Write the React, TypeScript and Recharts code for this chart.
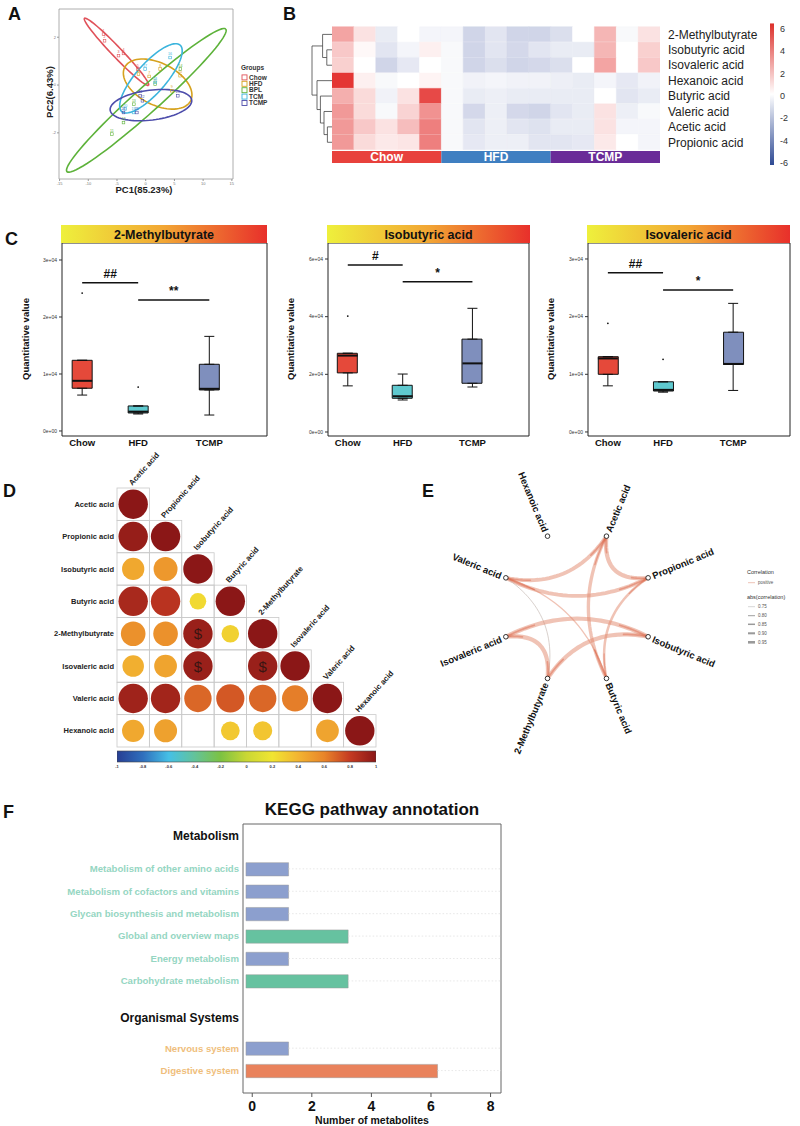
import React from 'react';
import {
  ScatterChart, Scatter, XAxis, YAxis, ReferenceArea, BarChart, Bar, Cell,
  ComposedChart, ErrorBar, ReferenceLine, LabelList,
} from 'recharts';

const FONT = '"Liberation Sans", Arial, Helvetica, sans-serif';

/* ================= Panel A : PCA ================= */
const PCA_GROUPS = ['Chow', 'HFD', 'BPL', 'TCM', 'TCMP'];
const PCA_COLORS = ['#e0525a', '#d6a21e', '#5db23a', '#3bb4dd', '#4d4dab'];
const PCA_PC1 = [
  [-7.35, -7.17, -4.74, -3.87, -1.37],
  [-1.26, 0.6, 2.51, 4.55, 5.99],
  [-5.89, -3.87, -2.06, 6.04, 1.64],
  [4.25, -0.1, 1.64, -2.13, -3.57],
  [-0.97, -0.57, 5.59, -3.87, -1.54],
];
const PCA_PC2 = [
  [2.16, 1.88, 1.26, 1.35, 0.7],
  [0.49, 0.39, 0.7, -0.21, 0.42],
  [-2.02, -1.54, -0.77, 0.7, 0.07],
  [1.18, 0.7, 0.14, -1.12, -0.97],
  [-0.42, -0.63, -0.42, -1.12, -1.12],
];
// confidence ellipses: centre and two conjugate semi-axes (PC units)
const PCA_ELL_CENTER = [[-5.09, 1.39], [2.08, 0.04], [0.11, -0.64], [0.91, 0.28], [0.91, -0.84]];
const PCA_ELL_A = [[5.57, -1.4], [5.74, -0.7], [13.83, 2.98], [5.08, 1.39], [7.1, 0.21]];
const PCA_ELL_B = [[0.63, 0.14], [1.65, 0.78], [1.45, -0.39], [1.96, -0.41], [0.31, -0.62]];
const PCA_XTICKS = [-15, -10, -5, 0, 5, 10, 15];
const PCA_YTICKS = [-2, 0, 2];
const PCA_XDOMAIN: [number, number] = [-15.1, 15.2];
const PCA_YDOMAIN: [number, number] = [-3.93, 3.18];

/* ================= Panel B : heatmap ================= */
const HM_ROWS = ['2-Methylbutyrate', 'Isobutyric acid', 'Isovaleric acid', 'Hexanoic acid', 'Butyric acid', 'Valeric acid', 'Acetic acid', 'Propionic acid'];
const HM_GROUPS = ['Chow', 'HFD', 'TCMP'];
const HM_GROUP_SIZE = [5, 5, 5];
const HM_GROUP_COLORS = ['#e8413c', '#3f7fc1', '#6a2c98'];
const HM_VALUES = [
  [2.5, 0.8, -0.6, 0, -0.3, -0.3, -1.3, -0.8, -1.3, -1.3, -1.0, 0, 2.0, -0.2, 0.8],
  [1.5, 0.2, -0.8, -0.3, 0.4, -0.2, -1.3, -0.8, -1.2, -0.8, -0.6, -0.6, 2.0, 0, 1.3],
  [1.3, 0, -1.3, -0.7, 0, -0.2, -1.3, -1.0, -1.3, -1.2, -1.0, 0, 2.5, 0, 1.5],
  [5.5, 0.4, -0.2, 0, 0.3, -0.2, -0.4, -0.3, -0.4, -0.4, -0.5, -0.6, -0.3, -0.7, -0.4],
  [2.2, 1.0, -0.4, 0.8, 5.0, -0.2, -0.6, -0.5, -0.6, -0.6, -0.6, -0.6, 0, -0.8, -0.6],
  [2.8, 1.0, -0.2, 1.2, 3.0, -0.2, -1.2, -0.5, -1.2, -1.3, -0.8, -0.6, 0.8, -0.5, -0.2],
  [2.8, 1.5, 0.8, 1.8, 3.5, -0.2, -0.8, -0.5, -0.8, -0.9, -0.6, -0.6, 0.8, -0.3, -0.3],
  [2.8, 1.0, 0.6, 0.7, 3.5, -0.2, -0.7, -0.5, -0.5, -0.8, -0.8, -0.7, 0.6, 0, -0.3],
];
// hierarchical clustering merges: [childA, childB, height]; leaves 0..7, merge k -> id 8+k
const HM_DENDRO: [number, number, number][] = [
  [1, 2, 0.26], [0, 8, 0.47], [6, 7, 0.23], [5, 10, 0.4], [4, 11, 0.58], [3, 12, 0.75], [9, 13, 1.0],
];
const HM_SCALE_TICKS = [-6, -4, -2, 0, 2, 4, 6];

/* ================= Panel C : box plots ================= */
const BOX_GROUPS = ['Chow', 'HFD', 'TCMP'];
const BOX_COLORS = ['#e5493a', '#5fc9cf', '#7f8fbd'];
const BOX_XPOS = [1, 2, 3.27];
// [lower whisker, Q1, median, Q3, upper whisker]
const MB_STATS = [[6300, 7500, 8800, 12400, 12400], [2980, 3160, 3390, 4390, 4390], [2800, 7200, 7400, 11700, 16600]];
const IB_STATS = [[16000, 20500, 26500, 27300, 27300], [11100, 11700, 12400, 16200, 20100], [15600, 16900, 23800, 32200, 42900]];
const IV_STATS = [[8000, 10000, 12750, 13050, 13050], [6900, 7100, 7300, 8700, 8700], [7200, 11700, 11800, 17300, 22300]];
const MB_OUT = [[24200], [7700], []];
const IB_OUT = [[40200], [], []];
const IV_OUT = [[18840], [12600], []];
const MB_SIG = [{ a: 0, b: 1, y: 26000, t: '##' }, { a: 1, b: 2, y: 23000, t: '**' }];
const IB_SIG = [{ a: 0, b: 1, y: 57900, t: '#' }, { a: 1, b: 2, y: 52100, t: '*' }];
const IV_SIG = [{ a: 0, b: 1, y: 27600, t: '##' }, { a: 1, b: 2, y: 24600, t: '*' }];

/* ================= Panel D : correlation ================= */
const SCFA = ['Acetic acid', 'Propionic acid', 'Isobutyric acid', 'Butyric acid', '2-Methylbutyrate', 'Isovaleric acid', 'Valeric acid', 'Hexanoic acid'];
const CORR_LOWER: (number | null)[][] = [
  [1],
  [0.96, 1],
  [0.45, 0.52, 1],
  [0.9, 0.84, 0.25, 1],
  [0.55, 0.55, 0.95, 0.28, 1],
  [0.42, 0.47, 0.95, null, 0.95, 1],
  [0.93, 0.92, 0.68, 0.72, 0.68, 0.62, 1],
  [0.45, 0.48, null, 0.32, 0.33, null, 0.47, 1],
];
const CORR_MARKS = [[4, 2], [5, 2], [5, 4]];
const CORR_TICKS = [-1, -0.8, -0.6, -0.4, -0.2, 0, 0.2, 0.4, 0.6, 0.8, 1];
const CORR_STOPS: [number, string][] = [
  [-1, '#273e93'], [-0.8, '#2f6fbd'], [-0.6, '#45c0e6'], [-0.4, '#63c39a'], [-0.2, '#7cc242'],
  [0, '#c9d734'], [0.2, '#f1e531'], [0.4, '#f2b431'], [0.6, '#e9852a'], [0.8, '#c43a22'], [1, '#8b1717'],
];

/* ================= Panel E : network ================= */
const NET_NODES = ['Acetic acid', 'Propionic acid', 'Isobutyric acid', 'Butyric acid', '2-Methylbutyrate', 'Isovaleric acid', 'Valeric acid', 'Hexanoic acid'];
const NET_EDGE_FROM = ['Acetic acid', 'Acetic acid', 'Propionic acid', 'Acetic acid', 'Propionic acid', 'Valeric acid', 'Valeric acid', 'Isobutyric acid', 'Isobutyric acid', 'Isovaleric acid'];
const NET_EDGE_TO = ['Propionic acid', 'Butyric acid', 'Butyric acid', 'Valeric acid', 'Valeric acid', 'Butyric acid', '2-Methylbutyrate', 'Isovaleric acid', '2-Methylbutyrate', '2-Methylbutyrate'];
const NET_EDGE_R = [0.95, 0.9, 0.85, 0.93, 0.93, 0.78, 0.75, 0.95, 0.95, 0.95];
const NET_LEGEND = [0.75, 0.8, 0.85, 0.9, 0.95];

/* ================= Panel F : KEGG ================= */
const F_NAMES = ['Metabolism of other amino acids', 'Metabolism of cofactors and vitamins', 'Glycan biosynthesis and metabolism', 'Global and overview maps', 'Energy metabolism', 'Carbohydrate metabolism', 'Nervous system', 'Digestive system'];
const F_COUNTS = [1, 1, 1, 3, 1, 3, 1, 6];
const F_CLASS_OF = [0, 0, 0, 0, 0, 0, 1, 1];
const F_CLASSES = ['Metabolism', 'Organismal Systems'];
const F_XTICKS = [0, 2, 4, 6, 8];

/* ---------- layout / style constants ---------- */
const F_ROW_POS = [6, 8, 10, 12, 14, 16, 22, 24];
const F_CLASS_POS = [3.04, 19.3];
const F_CLASS_COLORS = ['#95d6c2', '#efbe7c'];
const F_COUNT_COLORS: Record<number, string> = { 1: '#8c9fce', 3: '#66c2a0', 6: '#e9825c' };
const F_BAR_START = -0.21;
const F_BAR_PAD = 0.22;
const F_XDOMAIN: [number, number] = [-0.31, 8.35];
const NET_START_ANGLE = 67.5;
const D_CELL = 259 / 8;

const empty = () => <g />;

const hexToRgb = (h: string) => [1, 3, 5].map((i) => parseInt(h.slice(i, i + 2), 16));
function corrColor(v: number) {
  for (let k = 1; k < CORR_STOPS.length; k++) {
    const [v1, c1] = CORR_STOPS[k];
    const [v0, c0] = CORR_STOPS[k - 1];
    if (v <= v1) {
      const t = (v - v0) / (v1 - v0);
      const a = hexToRgb(c0), b = hexToRgb(c1);
      const c = a.map((x, i) => Math.round(x + (b[i] - x) * t));
      return `rgb(${c[0]},${c[1]},${c[2]})`;
    }
  }
  return CORR_STOPS[CORR_STOPS.length - 1][1];
}
function hmColor(v: number) {
  const t = Math.min(1, Math.abs(v) / 6);
  const end = v >= 0 ? [226, 36, 34] : [38, 62, 148];
  const c = end.map((e) => Math.round(255 + (e - 255) * t));
  return `rgb(${c[0]},${c[1]},${c[2]})`;
}
const sci = (v: number) => {
  if (v === 0) return '0e+00';
  const e = Math.floor(Math.log10(Math.abs(v)) + 1e-9);
  const m = Math.round(v / Math.pow(10, e));
  return `${m}e+${String(e).padStart(2, '0')}`;
};

/* ================= Panel A ================= */
function PanelA() {
  const ellipses = PCA_GROUPS.map((g, gi) => {
    const c = PCA_ELL_CENTER[gi], a = PCA_ELL_A[gi], b = PCA_ELL_B[gi];
    const pts = [];
    const n = 80;
    for (let k = 0; k <= n; k++) {
      const t = (2 * Math.PI * k) / n;
      pts.push({ x: c[0] + a[0] * Math.cos(t) + b[0] * Math.sin(t), y: c[1] + a[1] * Math.cos(t) + b[1] * Math.sin(t) });
    }
    return pts;
  });
  return (
    <div style={{ position: 'absolute', left: 0, top: 0 }}>
      <ScatterChart width={300} height={200} margin={{ top: 9, right: 67, bottom: 11, left: 49 }}>
        <XAxis type="number" dataKey="x" domain={PCA_XDOMAIN} ticks={PCA_XTICKS} interval={0} height={10} tickSize={2} tickMargin={1}
          tick={{ fontSize: 4, fill: '#777' }} axisLine={false} tickLine={{ stroke: '#999' }} allowDataOverflow />
        <YAxis type="number" dataKey="y" domain={PCA_YDOMAIN} ticks={PCA_YTICKS} interval={0} width={10} tickSize={2} tickMargin={1}
          tick={{ fontSize: 4, fill: '#777' }} axisLine={false} tickLine={{ stroke: '#999' }} allowDataOverflow />
        <ReferenceArea x1={PCA_XDOMAIN[0]} x2={PCA_XDOMAIN[1]} y1={PCA_YDOMAIN[0]} y2={PCA_YDOMAIN[1]} fill="none" stroke="#9a9a9a" strokeWidth={0.8} />
        {ellipses.map((pts, gi) => (
          <Scatter key={'e' + gi} data={pts} shape={empty} isAnimationActive={false}
            line={{ stroke: PCA_COLORS[gi], strokeWidth: 1.6, fill: 'none' }} />
        ))}
        {PCA_GROUPS.map((g, gi) => (
          <Scatter key={'p' + gi} isAnimationActive={false}
            data={PCA_PC1[gi].map((x, k) => ({ x, y: PCA_PC2[gi][k], id: String(gi * 5 + k + 1) }))}
            shape={(p: any) => (
              <g>
                <text x={p.cx} y={p.cy - 1.6} fontSize={3.6} textAnchor="middle" fill={PCA_COLORS[gi]}>{p.payload.id}</text>
                <rect x={p.cx - 1.3} y={p.cy - 0.6} width={2.6} height={2.6} fill="none" stroke={PCA_COLORS[gi]} strokeWidth={0.6} />
              </g>
            )} />
        ))}
      </ScatterChart>
    </div>
  );
}

/* ================= Panel B ================= */
function PanelB() {
  const nCols = HM_VALUES[0].length;
  const colKeys = Array.from({ length: nCols }, (_, j) => `c${j}`);
  const rows = HM_ROWS.map((name) => {
    const o: any = { name };
    colKeys.forEach((k) => (o[k] = 1));
    return o;
  });
  const nodeY: number[] = HM_ROWS.map((_, i) => i + 0.5);
  const nodeH: number[] = HM_ROWS.map(() => 0);
  const links: { x: number; y: number }[][] = [];
  HM_DENDRO.forEach(([a, b, h]) => {
    links.push([{ x: nodeH[a], y: nodeY[a] }, { x: h, y: nodeY[a] }, { x: h, y: nodeY[b] }, { x: nodeH[b], y: nodeY[b] }]);
    nodeY.push((nodeY[a] + nodeY[b]) / 2);
    nodeH.push(h);
  });
  const groupRow: any = { name: 'groups' };
  HM_GROUPS.forEach((g, i) => (groupRow[g] = HM_GROUP_SIZE[i]));
  return (
    <>
      <div style={{ position: 'absolute', left: 300, top: 20 }}>
        <ScatterChart width={40} height={140} margin={{ top: 6.7, right: 8, bottom: 10, left: 12 }}>
          <XAxis type="number" dataKey="x" domain={[0, 1]} reversed hide />
          <YAxis type="number" dataKey="y" domain={[0, 8]} reversed hide />
          {links.map((pts, i) => (
            <Scatter key={i} data={pts} shape={empty} isAnimationActive={false} line={{ stroke: '#444', strokeWidth: 0.8 }} />
          ))}
        </ScatterChart>
      </div>
      <div style={{ position: 'absolute', left: 320, top: 20 }}>
        <BarChart layout="vertical" width={480} height={140} data={rows} barCategoryGap={0}
          margin={{ top: 6.7, right: 30, bottom: 10, left: 12 }}>
          <XAxis type="number" domain={[0, nCols]} hide allowDataOverflow />
          <YAxis type="category" dataKey="name" orientation="right" width={110} axisLine={false} tickLine={false}
            tickSize={0} tickMargin={8} interval={0} tick={{ fontSize: 12, fill: '#222' }} />
          {colKeys.map((k, j) => (
            <Bar key={k} dataKey={k} stackId="h" isAnimationActive={false}>
              {HM_VALUES.map((row, i) => (
                <Cell key={i} fill={hmColor(row[j])} stroke={hmColor(row[j])} strokeWidth={0.4} />
              ))}
            </Bar>
          ))}
        </BarChart>
      </div>
      <div style={{ position: 'absolute', left: 332, top: 151 }}>
        <BarChart layout="vertical" width={328} height={12} data={[groupRow]} barCategoryGap={0}
          margin={{ top: 0, right: 0, bottom: 0, left: 0 }}>
          <XAxis type="number" domain={[0, nCols]} hide allowDataOverflow />
          <YAxis type="category" dataKey="name" hide />
          {HM_GROUPS.map((g, i) => (
            <Bar key={g} dataKey={g} stackId="g" fill={HM_GROUP_COLORS[i]} isAnimationActive={false}>
              <LabelList dataKey={g} position="center" formatter={() => g} fill="#fff" fontSize={12} fontWeight="bold" />
            </Bar>
          ))}
        </BarChart>
      </div>
      <div style={{ position: 'absolute', left: 760, top: 15 }}>
        <BarChart width={40} height={160} data={[{ name: 'scale', range: [-6.2, 6.5] }]} barCategoryGap={0}
          margin={{ top: 8.3, right: 0, bottom: 10, left: 6 }}>
          <defs>
            <linearGradient id="hmGrad" x1="0" y1="0" x2="0" y2="1">
              <stop offset="0" stopColor="#dc2f2a" />
              <stop offset="0.5" stopColor="#ffffff" />
              <stop offset="1" stopColor="#2e4a94" />
            </linearGradient>
          </defs>
          <XAxis dataKey="name" hide />
          <YAxis type="number" orientation="right" domain={[-6.2, 6.5]} ticks={HM_SCALE_TICKS} interval={0} width={22}
            axisLine={false} tickLine={false} tickSize={0} tickMargin={2} tick={{ fontSize: 9, fill: '#333' }} allowDataOverflow />
          <Bar dataKey="range" barSize={4} fill="url(#hmGrad)" isAnimationActive={false} />
        </BarChart>
      </div>
    </>
  );
}

/* ================= Panel C ================= */
function BoxPanel({ left, width, marginLeft, marginRight, stats, outliers, sig, domain, ticks }: any) {
  const rows = BOX_GROUPS.map((g, i) => ({
    pos: BOX_XPOS[i], name: g, low: stats[i][0], q1: stats[i][1], med: stats[i][2], q3: stats[i][3], high: stats[i][4],
    upErr: [0, stats[i][4] - stats[i][3]], lowErr: [stats[i][1] - stats[i][0], 0],
  }));
  const outs = outliers.flatMap((arr: number[], i: number) => arr.map((v) => ({ pos: BOX_XPOS[i], val: v })));
  const xDomain: [number, number] = [0.64, 4.3];
  return (
    <div style={{ position: 'absolute', left, top: 225 }}>
      <ComposedChart width={width} height={230} data={rows} margin={{ top: 18, right: marginRight, bottom: 4, left: marginLeft }}>
        <XAxis type="number" dataKey="pos" domain={xDomain} ticks={BOX_XPOS} interval={0} height={15}
          tickFormatter={(v: number) => BOX_GROUPS[BOX_XPOS.indexOf(v)] || ''} axisLine={false} tickLine={false}
          tickSize={0} tickMargin={3} tick={{ fontSize: 9.5, fontWeight: 'bold', fill: '#111' }} allowDataOverflow />
        <YAxis type="number" domain={domain} ticks={ticks} interval={0} width={24} tickFormatter={sci}
          axisLine={false} tickLine={{ stroke: '#333' }} tickSize={3} tickMargin={2}
          tick={{ fontSize: 5, fill: '#333' }} allowDataOverflow />
        <ReferenceArea x1={xDomain[0]} x2={xDomain[1]} y1={domain[0]} y2={domain[1]} fill="none" stroke="#222" strokeWidth={1} />
        <Bar dataKey={(d: any) => [d.q1, d.q3]} barSize={20} stroke="#111" strokeWidth={1} isAnimationActive={false}>
          {rows.map((r, i) => <Cell key={i} fill={BOX_COLORS[i]} />)}
        </Bar>
        <Scatter dataKey="q3" shape={empty} isAnimationActive={false}>
          <ErrorBar dataKey="upErr" direction="y" width={5} stroke="#111" strokeWidth={1} />
        </Scatter>
        <Scatter dataKey="q1" shape={empty} isAnimationActive={false}>
          <ErrorBar dataKey="lowErr" direction="y" width={5} stroke="#111" strokeWidth={1} />
        </Scatter>
        <Scatter dataKey="med" isAnimationActive={false}
          shape={(p: any) => <line x1={p.cx - 10} x2={p.cx + 10} y1={p.cy} y2={p.cy} stroke="#111" strokeWidth={2} />} />
        <Scatter data={outs} dataKey="val" isAnimationActive={false}
          shape={(p: any) => <circle cx={p.cx} cy={p.cy} r={0.9} fill="#111" />} />
        {sig.map((s: any, i: number) => (
          <ReferenceLine key={i} segment={[{ x: BOX_XPOS[s.a], y: s.y }, { x: BOX_XPOS[s.b], y: s.y }]}
            stroke="#111" strokeWidth={1.5}
            label={{ value: s.t, position: 'top', fill: '#111', fontSize: 12, fontWeight: 'bold' }} />
        ))}
      </ComposedChart>
    </div>
  );
}

/* ================= Panel D ================= */
function PanelD() {
  const cells: any[] = [];
  CORR_LOWER.forEach((row, i) => {
    row.forEach((r, j) => {
      cells.push({
        x: j + 1, y: i + 1, r, diag: i === j, name: SCFA[i],
        mark: CORR_MARKS.some(([a, b]) => a === i && b === j),
      });
    });
  });
  const shape = (p: any) => {
    const { cx, cy, payload } = p;
    const h = D_CELL / 2;
    return (
      <g>
        <rect x={cx - h} y={cy - h} width={D_CELL} height={D_CELL} fill="none" stroke="#c9c9c9" strokeWidth={0.8} />
        {payload.r != null && (
          <circle cx={cx} cy={cy} r={Math.min(14.7, 16.6 * Math.sqrt(Math.abs(payload.r)))} fill={corrColor(payload.r)} />
        )}
        {payload.mark && (
          <text x={cx} y={cy + 5.5} textAnchor="middle" fontSize={15} fill="#3a1512">$</text>
        )}
        {payload.diag && (
          <text transform={`translate(${cx - 1},${cy - h - 2}) rotate(-48)`} fontSize={7.8} fontWeight="bold" fill="#222">
            {payload.name}
          </text>
        )}
      </g>
    );
  };
  return (
    <>
      <div style={{ position: 'absolute', left: 0, top: 450 }}>
        <ScatterChart width={400} height={301} margin={{ top: 38, right: 24, bottom: 4, left: 17 }}>
          <XAxis type="number" dataKey="x" domain={[0.5, 8.5]} hide />
          <YAxis type="number" dataKey="y" domain={[0.5, 8.5]} reversed ticks={[1, 2, 3, 4, 5, 6, 7, 8]} interval={0}
            width={100} tickFormatter={(v: number) => SCFA[v - 1]} axisLine={false} tickLine={false} tickSize={0} tickMargin={3}
            tick={{ fontSize: 7.5, fontWeight: 'bold', fill: '#222' }} />
          <Scatter data={cells} shape={shape} isAnimationActive={false} />
        </ScatterChart>
      </div>
      <div style={{ position: 'absolute', left: 100, top: 745 }}>
        <BarChart layout="vertical" width={300} height={30} data={[{ name: 'cb', range: [-1, 1] }]} barCategoryGap={0}
          margin={{ top: 5, right: 24, bottom: 2, left: 17 }}>
          <defs>
            <linearGradient id="corrGrad" x1="0" y1="0" x2="1" y2="0">
              {CORR_STOPS.map(([v, c], i) => <stop key={i} offset={(v + 1) / 2} stopColor={c} />)}
            </linearGradient>
          </defs>
          <XAxis type="number" domain={[-1, 1]} ticks={CORR_TICKS} interval={0} height={10} axisLine={false} tickLine={false}
            tickSize={0} tickMargin={2} tick={{ fontSize: 4, fill: '#333', fontWeight: 'bold' }} allowDataOverflow />
          <YAxis type="category" dataKey="name" hide />
          <Bar dataKey="range" barSize={11} fill="url(#corrGrad)" stroke="#444" strokeWidth={0.6} isAnimationActive={false} />
        </BarChart>
      </div>
    </>
  );
}

/* ================= Panel E ================= */
function PanelE() {
  const nodes = NET_NODES.map((name, i) => {
    const ang = NET_START_ANGLE - i * 45;
    const a = (ang * Math.PI) / 180;
    return { name, x: Math.cos(a), y: Math.sin(a), ang };
  });
  const find = (n: string) => nodes.find((d) => d.name === n)!;
  const edges = NET_EDGE_FROM.map((f, k) => {
    const A = find(f), B = find(NET_EDGE_TO[k]);
    const mx = (A.x + B.x) / 2, my = (A.y + B.y) / 2;
    const d = Math.hypot(mx, my) || 1;
    const cx = mx - (mx / d) * 0.47, cy = my - (my / d) * 0.47;
    const pts = [];
    const n = 30;
    for (let s = 0; s <= n; s++) {
      const t = s / n;
      pts.push({
        x: (1 - t) * (1 - t) * A.x + 2 * (1 - t) * t * cx + t * t * B.x,
        y: (1 - t) * (1 - t) * A.y + 2 * (1 - t) * t * cy + t * t * B.y,
      });
    }
    return pts;
  });
  const nodeShape = (p: any) => {
    const { cx, cy, payload } = p;
    const rad = (payload.ang * Math.PI) / 180;
    const right = Math.cos(rad) > 0.01;
    const tx = cx + 5 * Math.cos(rad), ty = cy - 5 * Math.sin(rad);
    const rot = right ? -payload.ang : 180 - payload.ang;
    return (
      <g>
        <text transform={`translate(${tx},${ty}) rotate(${rot})`} textAnchor={right ? 'start' : 'end'} dominantBaseline="central"
          fontSize={9.5} fontWeight="bold" fill="#111">{payload.name}</text>
        <circle cx={cx} cy={cy} r={2.3} fill="#fff" stroke="#333" strokeWidth={1} />
      </g>
    );
  };
  return (
    <div style={{ position: 'absolute', left: 410, top: 455 }}>
      <ScatterChart width={340} height={325} margin={{ top: 36.8, right: 57.5, bottom: 57.2, left: 51.5 }}>
        <XAxis type="number" dataKey="x" domain={[-1.5, 1.5]} hide />
        <YAxis type="number" dataKey="y" domain={[-1.5, 1.5]} hide />
        {edges.map((pts, k) => {
          const r = NET_EDGE_R[k];
          const faint = r < 0.77;
          return (
            <Scatter key={k} data={pts} shape={empty} isAnimationActive={false}
              line={{ stroke: faint ? '#c9bdb8' : '#e2876c', strokeWidth: 0.8 + (r - 0.75) * 17, strokeOpacity: faint ? 0.9 : 0.5, strokeLinecap: 'round' }} />
          );
        })}
        {edges.map((pts, k) => {
          const r = NET_EDGE_R[k];
          if (r < 0.77) return null;
          const ends = [pts.slice(0, 7), pts.slice(pts.length - 7)];
          return ends.map((seg, e) => (
            <Scatter key={`end${k}-${e}`} data={seg} shape={empty} isAnimationActive={false}
              line={{ stroke: '#d9583a', strokeWidth: 0.5 + (r - 0.75) * 6, strokeOpacity: 0.4, strokeLinecap: 'round' }} />
          ));
        })}
        <Scatter data={nodes} shape={nodeShape} isAnimationActive={false} />
      </ScatterChart>
    </div>
  );
}

/* ================= Panel F ================= */
function PanelF() {
  const rows = F_NAMES.map((name, i) => ({ name, count: F_COUNTS[i], pos: F_ROW_POS[i], cls: F_CLASS_OF[i] }));
  const ticks = [...F_CLASS_POS, ...F_ROW_POS].sort((a, b) => a - b);
  const FTick = (p: any) => {
    const { x, y, payload } = p;
    const v = payload.value;
    const ci = F_CLASS_POS.findIndex((q) => Math.abs(q - v) < 1e-6);
    if (ci >= 0) {
      return <text x={x} y={y} dy="0.35em" textAnchor="end" fontSize={12} fontWeight="bold" fill="#111">{F_CLASSES[ci]}</text>;
    }
    const ri = F_ROW_POS.findIndex((q) => Math.abs(q - v) < 1e-6);
    if (ri < 0) return <g />;
    return (
      <text x={x} y={y} dy="0.35em" textAnchor="end" fontSize={9.6} fontWeight="bold" fill={F_CLASS_COLORS[F_CLASS_OF[ri]]}>
        {F_NAMES[ri]}
      </text>
    );
  };
  return (
    <div style={{ position: 'absolute', left: 0, top: 800 }}>
      <BarChart layout="vertical" width={520} height={326} data={rows} margin={{ top: 24, right: 19, bottom: 13, left: 8 }}>
        <XAxis type="number" domain={F_XDOMAIN} ticks={F_XTICKS} interval={0} height={20} axisLine={false}
          tickLine={{ stroke: '#555' }} tickSize={4} tickMargin={4} tick={{ fontSize: 14, fontWeight: 'bold', fill: '#111' }} allowDataOverflow />
        <YAxis type="number" dataKey="pos" domain={[2, 26]} ticks={ticks} interval={0} width={235}
          axisLine={false} tickLine={false} tickSize={0} tickMargin={4} tick={<FTick />} allowDataOverflow />
        {rows.map((r, i) => (
          <ReferenceLine key={i} segment={[{ x: r.count + F_BAR_PAD, y: r.pos }, { x: F_XDOMAIN[1], y: r.pos }]}
            stroke="#e2e2e2" strokeDasharray="1.5 2" strokeWidth={0.8} />
        ))}
        <ReferenceArea x1={F_XDOMAIN[0]} x2={F_XDOMAIN[1]} y1={2} y2={26} fill="none" stroke="#666" strokeWidth={1} />
        <Bar dataKey={(d: any) => [F_BAR_START, d.count + F_BAR_PAD]} barSize={13.3} stroke="#9a9a9a" strokeWidth={0.5} isAnimationActive={false}>
          {rows.map((r, i) => <Cell key={i} fill={F_COUNT_COLORS[r.count]} />)}
        </Bar>
      </BarChart>
    </div>
  );
}

/* ================= overlay texts ================= */
function Overlay() {
  const C_STRIPS = [
    { x: 61, w: 206, t: '2-Methylbutyrate', yl: 29 },
    { x: 327, w: 203, t: 'Isobutyric acid', yl: 294 },
    { x: 587, w: 203, t: 'Isovaleric acid', yl: 554 },
  ];
  const legY = [79.5, 85.9, 92.3, 98.7, 105.1];
  const eLegY = [606.7, 615.7, 624.3, 633.3, 642.3];
  return (
    <svg width={800} height={1126} style={{ position: 'absolute', left: 0, top: 0, pointerEvents: 'none', fontFamily: FONT }}>
      <defs>
        <linearGradient id="strip" x1="0" y1="0" x2="1" y2="0">
          <stop offset="0" stopColor="#eef03c" />
          <stop offset="0.5" stopColor="#f2a634" />
          <stop offset="1" stopColor="#e8302b" />
        </linearGradient>
      </defs>
      <text x={8} y={20} fontSize={18} fontWeight="bold" fill="#111">A</text>
      <text x={283} y={20} fontSize={18} fontWeight="bold" fill="#111">B</text>
      <text x={5} y={245} fontSize={18} fontWeight="bold" fill="#111">C</text>
      <text x={3} y={497} fontSize={18} fontWeight="bold" fill="#111">D</text>
      <text x={422} y={497} fontSize={18} fontWeight="bold" fill="#111">E</text>
      <text x={3} y={818} fontSize={18} fontWeight="bold" fill="#111">F</text>

      <text transform="translate(53,92) rotate(-90)" textAnchor="middle" fontSize={9.5} fontWeight="bold" fill="#222">PC2(6.43%)</text>
      <text x={144} y={193} textAnchor="middle" fontSize={9.5} fontWeight="bold" fill="#222">PC1(85.23%)</text>
      <text x={241} y={70} fontSize={6.5} fontWeight="bold" fill="#333">Groups</text>
      {PCA_GROUPS.map((g, i) => (
        <g key={g}>
          <rect x={242} y={legY[i] - 4.6} width={5} height={5} fill="#fff" stroke={PCA_COLORS[i]} strokeWidth={0.9} />
          <text x={249} y={legY[i]} fontSize={6.5} fontWeight="bold" fill="#333">{g}</text>
        </g>
      ))}

      {C_STRIPS.map((s) => (
        <g key={s.t}>
          <rect x={s.x} y={225} width={s.w} height={18} fill="url(#strip)" />
          <text x={s.x + s.w / 2} y={238.5} textAnchor="middle" fontSize={12.5} fontWeight="bold" fill="#111">{s.t}</text>
          <text transform={`translate(${s.yl},339) rotate(-90)`} textAnchor="middle" fontSize={9.5} fontWeight="bold" fill="#111">Quantitative value</text>
        </g>
      ))}

      <text x={747} y={574} fontSize={5.5} fill="#333">Correlation</text>
      <line x1={748} x2={755} y1={582.7} y2={582.7} stroke="#e9b3a3" strokeWidth={0.8} />
      <text x={758} y={584.4} fontSize={4.5} fill="#555">positive</text>
      <text x={747} y={599} fontSize={5.5} fill="#333">abs(correlation)</text>
      {NET_LEGEND.map((v, i) => (
        <g key={v}>
          <line x1={748} x2={755} y1={eLegY[i]} y2={eLegY[i]} stroke="#9a9a9a" strokeWidth={0.4 + i * 0.55} />
          <text x={758} y={eLegY[i] + 1.6} fontSize={4.5} fill="#555">{v.toFixed(2)}</text>
        </g>
      ))}

      <text x={372} y={815} textAnchor="middle" fontSize={17} fontWeight="bold" fill="#111">KEGG pathway annotation</text>
      <text x={372} y={1123.5} textAnchor="middle" fontSize={10.5} fontWeight="bold" fill="#111">Number of metabolites</text>
    </svg>
  );
}

export default function App() {
  return (
    <div style={{ position: 'absolute', left: 0, top: 0, width: 800, height: 1126, background: '#fff', fontFamily: FONT, overflow: 'hidden' }}>
      <PanelA />
      <PanelB />
      <BoxPanel left={0} width={275} marginLeft={38} marginRight={8} stats={MB_STATS} outliers={MB_OUT} sig={MB_SIG}
        domain={[-880, 32980]} ticks={[0, 10000, 20000, 30000]} />
      <BoxPanel left={270} width={265} marginLeft={34} marginRight={6} stats={IB_STATS} outliers={IB_OUT} sig={IB_SIG}
        domain={[-1390, 65550]} ticks={[0, 20000, 40000, 60000]} />
      <BoxPanel left={530} width={270} marginLeft={34} marginRight={10} stats={IV_STATS} outliers={IV_OUT} sig={IV_SIG}
        domain={[-700, 32770]} ticks={[0, 10000, 20000, 30000]} />
      <PanelD />
      <PanelE />
      <PanelF />
      <Overlay />
    </div>
  );
}
